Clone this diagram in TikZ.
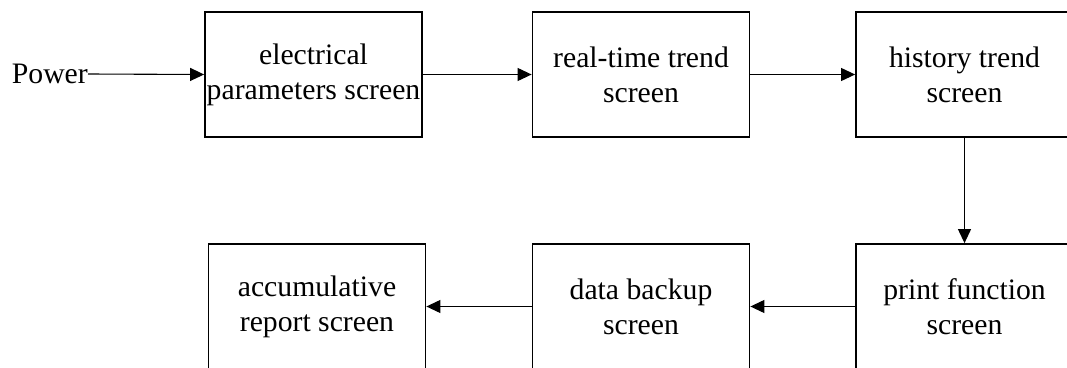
\documentclass[tikz,border=0pt]{standalone}
\usepackage{fontspec}
\setmainfont{Liberation Serif}
\usetikzlibrary{arrows.meta}
\begin{document}
\begin{tikzpicture}[x=1pt,y=-1pt,
  screenbox/.style={draw, line width=1.8pt, minimum width=217pt, minimum height=125pt, inner sep=0pt, align=center, font=\fontsize{29.7}{35}\selectfont},
  conn/.style={line width=1.1pt, -{Triangle[length=14pt,width=13pt]}}]
\useasboundingbox (0,0) rectangle (1067,367);
\node[screenbox] (b1) at (313.5,74.5) {electrical\\parameters screen};
\node[screenbox] (b2) at (641,74.5) {real-time trend\\screen};
\node[screenbox] (b3) at (964.5,74.5) {history trend\\screen};
\node[screenbox] (b4) at (964.5,306.5) {print function\\screen};
\node[screenbox] (b5) at (641,306.5) {data backup\\screen};
\node[screenbox] (b6) at (317,306.5) {accumulative\\report screen};
\node[anchor=east, inner sep=0pt, font=\fontsize{29.7}{35}\selectfont] (pw) at (88,74) {Power};
\draw[conn] (pw.east) -- (b1.west);
\draw[conn] (b1.east) -- (b2.west);
\draw[conn] (b2.east) -- (b3.west);
\draw[conn] (b3.south) -- (b4.north);
\draw[conn] (b4.west) -- (b5.east);
\draw[conn] (b5.west) -- (b6.east);
\end{tikzpicture}
\end{document}
